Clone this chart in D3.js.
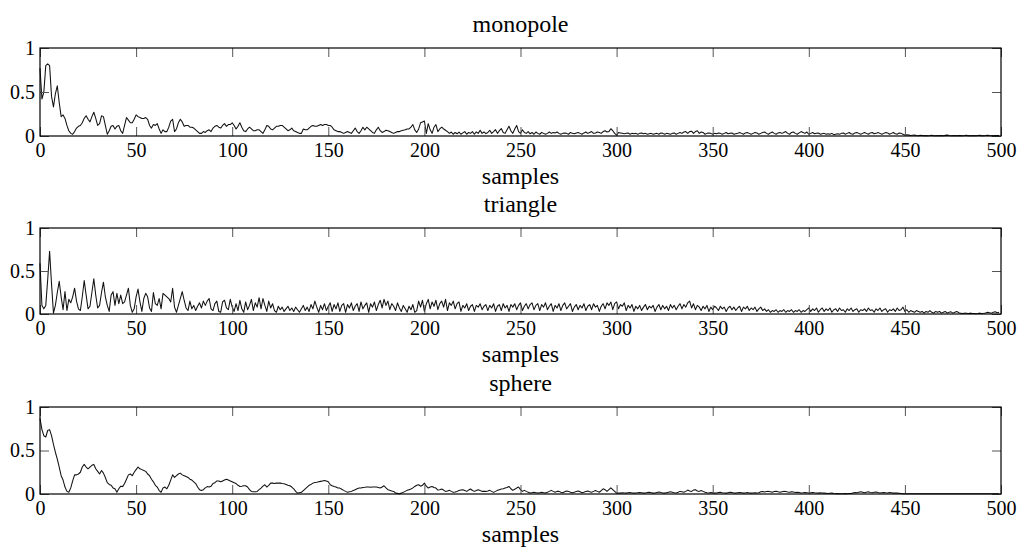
<!DOCTYPE html>
<html>
<head>
<meta charset="utf-8">
<script src="https://cdn.jsdelivr.net/npm/d3@7"></script>
<style>
  html, body { margin: 0; padding: 0; background: #fff; }
  svg { display: block; }
  text { font-family: "Liberation Serif", "Times New Roman", serif; fill: #000; }
</style>
</head>
<body>
<svg id="chart" width="1029" height="547"></svg>
<script>
// ---- data ----
const titles = ["monopole", "triangle", "sphere"];
const xLabel = "samples";
const xTicks = [0, 50, 100, 150, 200, 250, 300, 350, 400, 450, 500];
const yTicks = [0, 0.5, 1];
const yTickLabels = ["0", "0.5", "1"];

const monopole = [
  .77,.42,.50,.80,.82,.80,.45,.33,.48,.57, .38,.22,.24,.20,.12,.06,.03,.02,.05,.09,
  .11,.12,.15,.20,.23,.19,.16,.22,.27,.20, .12,.14,.23,.22,.12,.02,.06,.11,.12,.08,
  .11,.12,.06,.03,.12,.21,.18,.15,.15,.19, .24,.22,.21,.20,.20,.21,.19,.12,.09,.13,
  .12,.14,.08,.03,.07,.05,.05,.10,.17,.19, .05,.08,.15,.19,.16,.11,.12,.12,.10,.10,
  .09,.07,.05,.03,.03,.05,.04,.06,.07,.05, .09,.11,.12,.10,.09,.12,.14,.11,.13,.13,
  .15,.12,.08,.11,.15,.10,.06,.05,.08,.10, .08,.06,.06,.07,.07,.05,.03,.07,.12,.11,
  .08,.07,.09,.11,.11,.12,.12,.10,.08,.06, .07,.09,.06,.05,.04,.03,.03,.08,.07,.07,
  .09,.11,.12,.11,.11,.12,.13,.12,.13,.13, .12,.12,.10,.07,.06,.05,.05,.04,.03,.04,
  .05,.04,.03,.06,.09,.05,.03,.06,.10,.07, .10,.08,.06,.04,.03,.07,.10,.06,.04,.05,
  .065,.06,.05,.04,.03,.04,.05,.05,.06,.065, .07,.08,.08,.10,.13,.07,.04,.08,.15,.16,
  .17,.03,.14,.07,.03,.10,.13,.05,.08,.10, .08,.065,.05,.03,.045,.02,.04,.025,.045,.02,
  .035,.05,.02,.04,.03,.05,.02,.046,.03,.065, .03,.046,.027,.04,.065,.03,.05,.072,.03,.06,
  .084,.04,.03,.07,.11,.06,.03,.08,.12,.05, .03,.07,.04,.03,.05,.025,.04,.02,.045,.03,
  .02,.04,.03,.02,.03,.045,.03,.04,.035,.046, .03,.02,.03,.035,.03,.02,.04,.03,.025,.035,
  .04,.03,.02,.035,.045,.03,.04,.05,.03,.035, .045,.04,.03,.05,.06,.045,.05,.083,.06,.03,
  .01,.04,.035,.03,.025,.03,.035,.02,.03,.025, .03,.02,.03,.035,.025,.03,.02,.025,.03,.02,
  .025,.03,.02,.035,.03,.02,.03,.025,.02,.03, .035,.02,.03,.04,.03,.045,.05,.03,.05,.055,
  .03,.05,.06,.03,.045,.04,.02,.03,.035,.03, .02,.03,.025,.035,.03,.02,.03,.04,.025,.03,
  .035,.02,.025,.03,.04,.03,.02,.035,.04,.03, .02,.03,.04,.035,.02,.03,.04,.045,.03,.02,
  .035,.045,.03,.02,.035,.04,.03,.04,.05,.03, .02,.04,.045,.03,.02,.035,.05,.04,.03,.045,
  .02,.03,.04,.025,.03,.035,.02,.025,.03,.02, .025,.02,.03,.015,.02,.025,.02,.03,.035,.02,
  .03,.04,.025,.02,.035,.04,.03,.02,.03,.04, .03,.02,.035,.04,.025,.03,.04,.03,.02,.03,
  .04,.035,.02,.03,.04,.025,.02,.035,.03,.02, .01,.015,.01,.005,.008,.01,.006,.004,.008,.005,
  .004,.006,.003,.005,.008,.004,.003,.006,.004,.005, .003,.007,.01,.005,.003,.004,.006,.003,.005,.004,
  .003,.005,.008,.004,.003,.006,.004,.003,.005,.007, .004,.003,.005,.008,.005,.003,.004,.006,.005,.006
];

const triangle = [
  .59,.10,.06,.10,.40,.73,.35,.01,.10,.25, .38,.20,.05,.26,.04,.17,.13,.20,.30,.15,
  .06,.04,.20,.39,.22,.06,.09,.25,.41,.22, .07,.10,.25,.37,.20,.10,.03,.22,.26,.10,
  .24,.12,.22,.12,.14,.22,.30,.10,.02,.06, .20,.29,.14,.03,.18,.24,.20,.07,.03,.25,
  .12,.10,.18,.06,.24,.22,.20,.18,.14,.30, .08,.02,.10,.18,.26,.16,.07,.04,.15,.06,
  .10,.04,.09,.13,.07,.15,.10,.15,.18,.06, .04,.12,.15,.03,.02,.14,.16,.07,.05,.17,
  .08,.03,.12,.04,.16,.06,.02,.14,.05,.10, .17,.04,.13,.08,.19,.06,.18,.10,.03,.15,
  .07,.12,.04,.02,.09,.05,.08,.03,.06,.09, .04,.07,.03,.08,.05,.02,.06,.10,.04,.08,
  .03,.11,.06,.15,.08,.02,.10,.05,.12,.04, .09,.13,.03,.11,.06,.13,.03,.10,.12,.02,
  .11,.07,.13,.04,.09,.12,.03,.14,.06,.10, .13,.02,.12,.08,.14,.04,.11,.16,.07,.17,
  .10,.15,.05,.12,.09,.04,.13,.07,.03,.10, .06,.02,.09,.05,.11,.02,.04,.15,.08,.16,
  .03,.12,.17,.06,.14,.09,.16,.05,.12,.15, .08,.17,.04,.13,.10,.15,.06,.12,.14,.03,
  .10,.07,.12,.04,.09,.11,.03,.10,.08,.12, .05,.09,.11,.04,.10,.07,.12,.03,.09,.11,
  .04,.12,.07,.10,.03,.11,.08,.12,.05,.10, .13,.04,.09,.12,.06,.11,.13,.05,.10,.12,
  .04,.11,.08,.13,.05,.09,.12,.03,.10,.07, .12,.04,.10,.13,.06,.09,.12,.03,.08,.11,
  .05,.10,.07,.12,.04,.09,.11,.05,.12,.08, .10,.03,.09,.12,.06,.13,.10,.14,.05,.12,
  .14,.06,.11,.09,.13,.04,.10,.07,.11,.03, .09,.06,.10,.04,.08,.11,.05,.09,.07,.10,
  .03,.08,.11,.05,.10,.06,.09,.04,.11,.07, .10,.05,.09,.12,.06,.11,.08,.13,.15,.07,
  .12,.05,.10,.08,.04,.09,.06,.10,.03,.08, .05,.09,.07,.04,.09,.06,.08,.03,.07,.09,
  .05,.08,.04,.07,.09,.03,.08,.06,.09,.04, .07,.05,.08,.03,.06,.08,.04,.06,.03,.05,
  .02,.04,.03,.05,.02,.04,.03,.05,.02,.04, .03,.05,.02,.04,.03,.05,.02,.04,.03,.05,
  .07,.03,.06,.04,.07,.02,.05,.07,.03,.06, .04,.07,.02,.05,.06,.03,.07,.04,.05,.02,
  .06,.04,.07,.03,.05,.06,.02,.05,.04,.06, .03,.07,.04,.05,.02,.06,.04,.07,.03,.05,
  .06,.02,.05,.04,.06,.03,.07,.04,.05,.08, .03,.05,.02,.04,.03,.02,.04,.03,.02,.03,
  .01,.03,.02,.04,.02,.01,.03,.02,.03,.01, .02,.03,.01,.02,.025,.01,.02,.03,.015,.01,
  .005,.01,.008,.005,.01,.007,.005,.003,.006,.01, .005,.008,.012,.02,.015,.01,.02,.025,.015,.02
];

const sphere = [
  .87,.74,.67,.655,.73,.74,.67,.57,.48,.40, .31,.21,.16,.08,.03,.02,.07,.15,.22,.22,
  .23,.25,.31,.34,.31,.29,.31,.33,.34,.29, .26,.23,.27,.24,.19,.13,.11,.10,.07,.06,
  .02,.06,.09,.085,.12,.17,.22,.23,.21,.25, .28,.31,.29,.28,.27,.26,.23,.21,.17,.14,
  .10,.08,.04,.02,.07,.08,.06,.10,.16,.22, .19,.21,.23,.24,.22,.21,.20,.19,.17,.16,
  .14,.12,.08,.05,.04,.05,.07,.085,.08,.09, .12,.13,.15,.15,.14,.15,.16,.17,.16,.15,
  .14,.13,.12,.10,.087,.09,.095,.095,.08,.05, .03,.025,.025,.03,.05,.068,.09,.106,.08,.10,
  .125,.125,.12,.125,.125,.125,.12,.117,.11,.10, .095,.08,.06,.03,.011,.015,.019,.04,.06,.08,
  .10,.11,.125,.133,.135,.14,.145,.15,.155,.15, .14,.106,.095,.087,.08,.07,.068,.055,.042,.03,
  .019,.025,.03,.04,.049,.06,.068,.07,.075,.077, .08,.08,.078,.08,.08,.08,.075,.068,.08,.095,
  .07,.05,.042,.035,.03,.011,.007,.004,.01,.019, .03,.042,.05,.057,.07,.087,.10,.106,.09,.10,
  .125,.09,.068,.08,.087,.075,.068,.045,.05,.057, .045,.03,.035,.042,.03,.019,.022,.03,.04,.045,
  .049,.04,.03,.045,.057,.04,.03,.04,.049,.04, .03,.03,.03,.035,.042,.03,.019,.03,.042,.05,
  .057,.06,.068,.075,.087,.06,.042,.055,.068,.08, .05,.03,.042,.03,.019,.011,.015,.019,.015,.011,
  .015,.019,.015,.011,.02,.03,.042,.03,.02,.03, .03,.02,.015,.025,.035,.03,.02,.015,.02,.03,
  .035,.025,.015,.02,.03,.035,.025,.02,.03,.04, .03,.02,.04,.06,.05,.03,.05,.07,.05,.03,
  .01,.012,.01,.015,.012,.01,.014,.016,.012,.01, .012,.015,.018,.014,.01,.012,.016,.02,.015,.01,
  .012,.018,.022,.016,.012,.01,.015,.02,.025,.02, .015,.012,.02,.03,.025,.02,.03,.045,.035,.03,
  .045,.05,.035,.03,.04,.03,.02,.015,.012,.018, .015,.01,.012,.016,.02,.015,.012,.01,.015,.02,
  .018,.012,.01,.014,.018,.015,.01,.012,.016,.012, .01,.012,.015,.012,.015,.025,.03,.022,.028,.03,
  .025,.02,.028,.032,.025,.02,.025,.03,.028,.022, .02,.025,.022,.018,.02,.016,.012,.014,.018,.015,
  .012,.015,.018,.014,.012,.01,.014,.012,.01,.008, .006,.008,.01,.006,.004,.005,.004,.003,.004,.005,
  .004,.006,.005,.012,.018,.015,.02,.025,.02,.015, .02,.025,.018,.015,.02,.022,.016,.012,.015,.018,
  .014,.012,.016,.014,.01,.012,.01,.008,.006,.004, .003,.002,.003,.004,.002,.003,.002,.003,.004,.003,
  .002,.003,.004,.003,.002,.003,.004,.002,.003,.002, .003,.004,.002,.003,.002,.004,.003,.002,.003,.004,
  .002,.003,.002,.004,.003,.002,.003,.004,.002,.003, .004,.003,.002,.003,.004,.002,.003,.002,.003,.004
];

const seriesList = [monopole, triangle, sphere];

// ---- layout ----
const left = 40, right = 1001;
const panelTop = [48, 228, 407];
const panelBottom = [136, 314, 494];
const font = '"Liberation Serif", "Times New Roman", serif';

const svg = d3.select("#chart");

const x = d3.scaleLinear().domain([0, 500]).range([left, right]);

seriesList.forEach((data, k) => {
  const y = d3.scaleLinear().domain([0, 1]).range([panelBottom[k], panelTop[k]]);
  const g = svg.append("g");

  // data line
  const line = d3.line()
    .x((d, i) => x(i))
    .y(d => y(d));
  g.append("path")
    .datum(data)
    .attr("fill", "none")
    .attr("stroke", "#111")
    .attr("stroke-width", 1.05)
    .attr("stroke-linejoin", "round")
    .attr("d", line);

  // axes (ticks inward)
  const tickLen = 9;
  const axB = g.append("g").attr("transform", `translate(0,${panelBottom[k]})`)
    .call(d3.axisBottom(x).tickValues(xTicks).tickSize(-tickLen).tickPadding(7).tickFormat(d3.format("d")));
  const axT = g.append("g").attr("transform", `translate(0,${panelTop[k]})`)
    .call(d3.axisTop(x).tickValues(xTicks).tickSize(-tickLen).tickFormat(""));
  const axL = g.append("g").attr("transform", `translate(${left},0)`)
    .call(d3.axisLeft(y).tickValues(yTicks).tickSize(-tickLen).tickPadding(5).tickFormat((d, i) => yTickLabels[i]));
  const axR = g.append("g").attr("transform", `translate(${right},0)`)
    .call(d3.axisRight(y).tickValues(yTicks).tickSize(-tickLen).tickFormat(""));

  [axB, axT, axL, axR].forEach(a => {
    a.select(".domain").remove();
    a.selectAll(".tick line").attr("stroke", "#555").attr("stroke-width", 1);
    a.selectAll("text").attr("font-family", font).attr("font-size", 20).attr("fill", "#000");
  });

  // frame
  g.append("rect")
    .attr("x", left).attr("y", panelTop[k])
    .attr("width", right - left).attr("height", panelBottom[k] - panelTop[k])
    .attr("fill", "none").attr("stroke", "#000").attr("stroke-width", 1.2);

  // title
  g.append("text")
    .attr("x", (left + right) / 2).attr("y", panelTop[k] - 16)
    .attr("text-anchor", "middle")
    .attr("font-family", font).attr("font-size", 24)
    .text(titles[k]);

  // x label
  g.append("text")
    .attr("x", (left + right) / 2).attr("y", panelBottom[k] + 48)
    .attr("text-anchor", "middle")
    .attr("font-family", font).attr("font-size", 24)
    .text(xLabel);
});
</script>
</body>
</html>
